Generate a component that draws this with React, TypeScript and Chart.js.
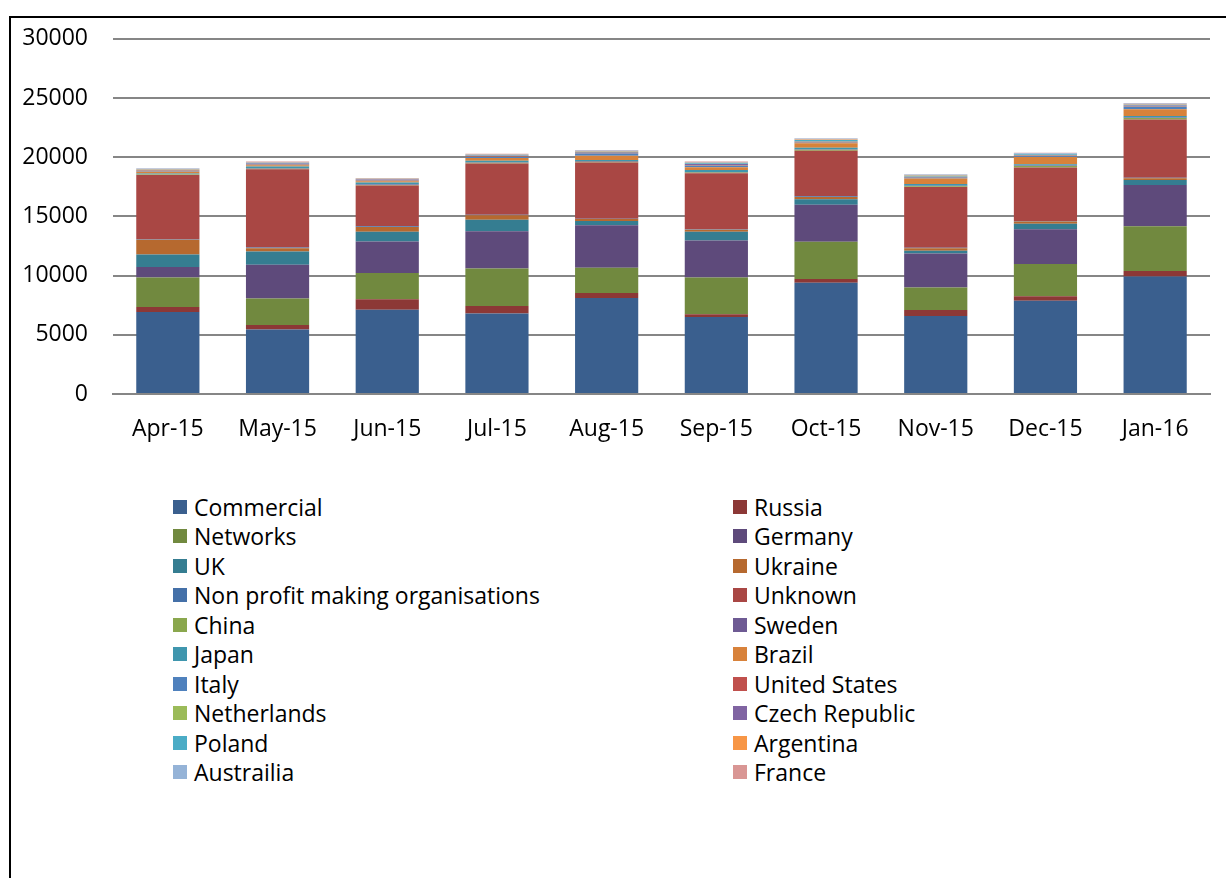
import React, { useEffect, useRef } from "react";
import { Chart, registerables } from "chart.js";

Chart.register(...registerables);

const months = ["Apr-15", "May-15", "Jun-15", "Jul-15", "Aug-15", "Sep-15", "Oct-15", "Nov-15", "Dec-15", "Jan-16"];
const yTicks = [0, 5000, 10000, 15000, 20000, 25000, 30000];

const commercial = [6920, 5450, 7120, 6790, 8100, 6500, 9390, 6590, 7880, 9920];
const russia = [420, 380, 890, 640, 420, 230, 330, 500, 380, 470];
const networks = [2490, 2240, 2210, 3160, 2150, 3100, 3130, 1900, 2720, 3780];
const germany = [900, 2850, 2650, 3160, 3580, 3130, 3130, 2880, 2930, 3480];
const uk = [1060, 1120, 840, 970, 360, 750, 470, 230, 470, 420];
const ukraine = [1240, 280, 400, 380, 160, 160, 180, 200, 180, 150];
const nonProfit = [50, 50, 50, 40, 40, 40, 70, 50, 50, 50];
const unknown = [5410, 6620, 3440, 4330, 4750, 4730, 3850, 5140, 4530, 4920];
const china = [40, 40, 60, 60, 60, 60, 80, 60, 120, 120];
const sweden = [30, 40, 40, 40, 50, 40, 40, 30, 40, 50];
const japan = [60, 150, 170, 120, 100, 170, 120, 150, 100, 120];
const brazil = [150, 90, 90, 240, 350, 250, 380, 480, 620, 580];
const italy = [50, 60, 60, 90, 200, 120, 60, 70, 60, 200];
const unitedStates = [40, 40, 40, 40, 40, 40, 40, 40, 40, 40];
const netherlands = [20, 20, 20, 20, 20, 30, 40, 20, 20, 30];
const czechRepublic = [30, 40, 30, 40, 50, 80, 40, 40, 40, 40];
const poland = [40, 40, 30, 50, 40, 50, 100, 60, 60, 60];
const argentina = [30, 30, 30, 40, 40, 60, 40, 30, 40, 40];
const australia = [60, 60, 50, 50, 60, 60, 80, 70, 60, 70];
const france = [30, 30, 30, 30, 30, 40, 40, 30, 30, 40];

const seriesNames = [
  "Commercial", "Russia", "Networks", "Germany", "UK", "Ukraine",
  "Non profit making organisations", "Unknown", "China", "Sweden",
  "Japan", "Brazil", "Italy", "United States", "Netherlands",
  "Czech Republic", "Poland", "Argentina", "Austrailia", "France",
];
const seriesValues = [
  commercial, russia, networks, germany, uk, ukraine, nonProfit, unknown,
  china, sweden, japan, brazil, italy, unitedStates, netherlands,
  czechRepublic, poland, argentina, australia, france,
];
const seriesColors = [
  "#3A5F8E", "#8C3836", "#71893F", "#5E4A7B", "#357D91", "#B6692F",
  "#4470A8", "#A94744", "#8AA74D", "#6E5A93", "#3F96AE", "#D8823B",
  "#4F81BD", "#C0504D", "#9BBB59", "#8064A2", "#4BACC6", "#F79646",
  "#95B3D7", "#D99694",
];

const FONT = "'Open Sans', 'Noto Sans', sans-serif";
const FONT_SIZE = 23;

function App() {
  const canvasRef = useRef<HTMLCanvasElement | null>(null);

  useEffect(() => {
    if (!canvasRef.current) return;
    const chart = new Chart(canvasRef.current, {
      type: "bar",
      data: {
        labels: months,
        datasets: seriesNames.map((name, i) => ({
          label: name,
          data: seriesValues[i],
          backgroundColor: seriesColors[i],
          borderWidth: 0,
          barPercentage: 0.576,
          categoryPercentage: 1,
        })),
      },
      options: {
        animation: false,
        responsive: false,
        layout: { padding: { top: 37, right: 16, bottom: 0, left: 0 } },
        plugins: {
          legend: { display: false },
          tooltip: { enabled: false },
        },
        scales: {
          x: {
            stacked: true,
            offset: true,
            grid: { display: false, drawTicks: false },
            border: { display: true, color: "#868686", width: 2 },
            ticks: {
              color: "#000",
              font: { family: FONT, size: FONT_SIZE },
              padding: 22,
              maxRotation: 0,
              autoSkip: false,
            },
            afterFit: (scale: any) => {
              scale.height = 50;
            },
          },
          y: {
            stacked: true,
            min: 0,
            max: 30000,
            afterBuildTicks: (scale: any) => {
              scale.ticks = yTicks.map((v) => ({ value: v }));
            },
            grid: { color: "#868686", lineWidth: 2, drawTicks: false },
            border: { display: false },
            ticks: {
              color: "#000",
              font: { family: FONT, size: FONT_SIZE },
              padding: 25,
              callback: (v: any) => String(v),
            },
            afterFit: (scale: any) => {
              scale.width = 113;
            },
          },
        },
      },
    });
    return () => chart.destroy();
  }, []);

  const rows: number[] = [];
  for (let i = 0; i < seriesNames.length; i += 2) rows.push(i);

  return (
    <div
      style={{
        position: "fixed",
        left: 0,
        top: 0,
        width: 1226,
        height: 878,
        overflow: "hidden",
        background: "#fff",
      }}
    >
      <div
        style={{
          position: "absolute",
          left: 9,
          top: 16,
          width: 1400,
          height: 1000,
          border: "2px solid #000",
        }}
      />
      <canvas
        ref={canvasRef}
        width={1226}
        height={444}
        style={{ position: "absolute", left: 0, top: 0 }}
      />
      <div
        style={{
          position: "absolute",
          left: 173,
          top: 492,
          fontFamily: FONT,
          fontSize: FONT_SIZE,
          color: "#000",
        }}
      >
        {rows.map((i) => (
          <div key={i} style={{ display: "flex", height: 29.5, alignItems: "center" }}>
            {[i, i + 1].map((j, k) => (
              <div
                key={j}
                style={{ display: "flex", alignItems: "center", width: k === 0 ? 560 : 400 }}
              >
                <span
                  style={{
                    display: "inline-block",
                    width: 14,
                    height: 14,
                    background: seriesColors[j],
                    marginRight: 7,
                    flexShrink: 0,
                  }}
                />
                <span style={{ whiteSpace: "nowrap" }}>{seriesNames[j]}</span>
              </div>
            ))}
          </div>
        ))}
      </div>
    </div>
  );
}

export default App;
